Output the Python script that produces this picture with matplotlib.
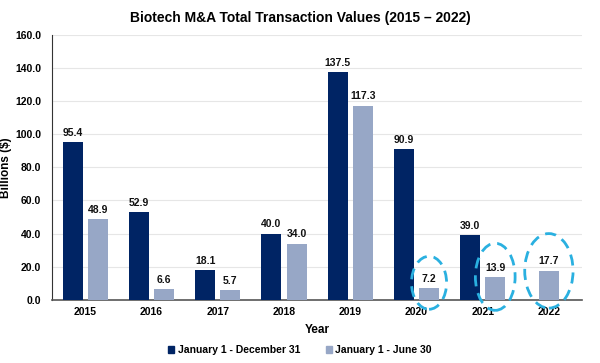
import matplotlib
matplotlib.use("Agg")
import matplotlib.pyplot as plt
from matplotlib.patches import Ellipse, Patch
import numpy as np

plt.rcParams['font.family'] = ['Liberation Sans', 'DejaVu Sans']

years = ["2015", "2016", "2017", "2018", "2019", "2020", "2021", "2022"]
full_year = [95.4, 52.9, 18.1, 40.0, 137.5, 90.9, 39.0, None]
half_year = [48.9, 6.6, 5.7, 34.0, 117.3, 7.2, 13.9, 17.7]
series_names = ["January 1 - December 31", "January 1 - June 30"]
circled = ["2020", "2021", "2022"]

dark = "#002464"
light = "#97A7C6"

fig = plt.figure(figsize=(6, 3.63), dpi=100)
ax = fig.add_axes([0.087, 0.174, 0.883, 0.73])

x = np.arange(len(years))
w = 0.3
off = 0.19
for i, v in enumerate(full_year):
    if v is None:
        continue
    ax.bar(x[i] - off, v, w, color=dark, zorder=3)
    ax.text(x[i] - off, v + 2.5, f"{v:.1f}", ha="center", va="bottom",
            fontsize=7.5, fontweight="bold", color="#111111")
for i, v in enumerate(half_year):
    xi = x[i] + off if full_year[i] is not None else x[i]
    ax.bar(xi, v, w, color=light, zorder=3)
    ax.text(xi, v + 2.5, f"{v:.1f}", ha="center", va="bottom",
            fontsize=7.5, fontweight="bold", color="#111111")

# dashed ellipses around recent half-year bars
ell_specs = {"2020": (10.3, 0.53, 32), "2021": (13.9, 0.6, 40.5), "2022": (17.5, 0.73, 45)}
for yr in circled:
    i = years.index(yr)
    xi = x[i] + off if full_year[i] is not None else x[i]
    cy, ew, eh = ell_specs[yr]
    e = Ellipse((xi, cy), ew, eh, fill=False, edgecolor="#2AB0E0", lw=2,
                linestyle=(0, (4, 2.5)), clip_on=False, zorder=5)
    ax.add_patch(e)

ax.set_xlim(-0.5, len(years) - 0.5)
ax.set_ylim(0, 160)
ax.set_yticks(np.arange(0, 161, 20))
ax.set_yticklabels([f"{t:.1f}" for t in np.arange(0, 161, 20)])
ax.set_xticks(x)
ax.set_xticklabels(years)
ax.tick_params(axis="both", length=0, labelsize=7.5)
for lbl in ax.get_xticklabels() + ax.get_yticklabels():
    lbl.set_fontweight("bold")
ax.tick_params(axis="x", pad=5)
ax.tick_params(axis="y", pad=8)
ax.grid(axis="y", color="#E6E6E6", lw=0.8, zorder=0)
for s in ["top", "right"]:
    ax.spines[s].set_visible(False)
ax.spines["left"].set_color("#333333")
ax.spines["bottom"].set_color("#555555")
ax.spines["bottom"].set_linewidth(1.2)

ax.set_xlabel("Year", fontsize=8.5, fontweight="bold", labelpad=5)
ax.set_ylabel("Billions ($)", fontsize=8.5, fontweight="bold", labelpad=2)
fig.text(0.5, 0.95, "Biotech M&A Total Transaction Values (2015 – 2022)",
         ha="center", va="center", fontsize=10, fontweight="bold")

handles = [Patch(color=dark), Patch(color=light)]
leg = fig.legend(handles, series_names, loc="center", bbox_to_anchor=(0.5, 0.035),
                 ncol=2, frameon=False, handlelength=0.6, handleheight=0.6,
                 handletextpad=0.3, columnspacing=2.5, prop={"size": 7.5, "weight": "bold"})

fig.savefig("out.png", dpi=100)
